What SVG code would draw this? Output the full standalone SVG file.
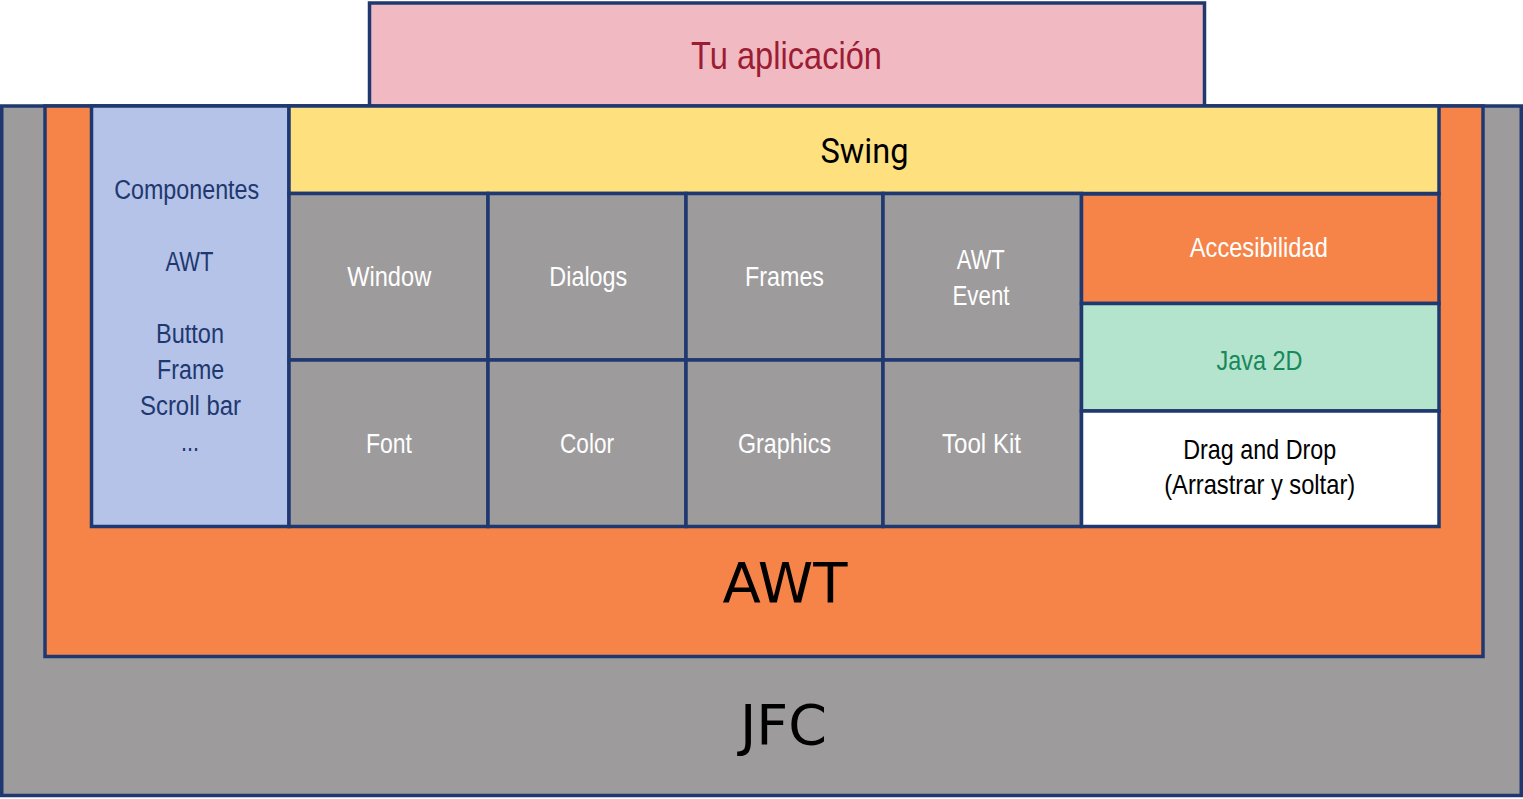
<svg xmlns="http://www.w3.org/2000/svg" width="1523" height="799" viewBox="0 0 1523 799">
<style>
rect{stroke:#1f3870;stroke-width:3.5}
.g{fill:#9d9b9c}
.t{font-family:"Liberation Sans",Arial,sans-serif;font-size:28px;text-anchor:middle}
.w{fill:#ffffff}
.n{fill:#1f3870}
.big{font-family:"DejaVu Sans",Verdana,sans-serif;font-size:55px;text-anchor:middle;fill:#000}
</style>
<g id="jfc">
<rect x="1.75" y="106" width="1519.5" height="689.5" class="g"/>
<text class="big" x="783.5" y="743.5" textLength="87" lengthAdjust="spacingAndGlyphs">JFC</text>
</g>
<g id="awt">
<rect x="45" y="106" width="1438" height="550.5" fill="#f68449"/>
<text class="big" x="785" y="601.5" textLength="125" lengthAdjust="spacingAndGlyphs">AWT</text>
</g>
<g id="app">
<rect x="369.5" y="3" width="835" height="103" fill="#f1bac2"/>
<text class="t" x="786.5" y="69" style="font-size:39px" fill="#9c1c33" textLength="191" lengthAdjust="spacingAndGlyphs">Tu aplicación</text>
</g>
<g id="componentes">
<rect x="91.5" y="106" width="197.5" height="420.5" fill="#b4c3e7"/>
<g class="t n" style="font-size:27px">
<text x="186.7" y="199.3" textLength="145" lengthAdjust="spacingAndGlyphs">Componentes</text>
<text x="189.5" y="271" textLength="48" lengthAdjust="spacingAndGlyphs">AWT</text>
<text x="190" y="343.3" textLength="68" lengthAdjust="spacingAndGlyphs">Button</text>
<text x="190.6" y="379" textLength="67" lengthAdjust="spacingAndGlyphs">Frame</text>
<text x="190.5" y="415" textLength="101" lengthAdjust="spacingAndGlyphs">Scroll bar</text>
<text x="190" y="451" textLength="18" lengthAdjust="spacingAndGlyphs">...</text>
</g>
</g>
<g id="swing">
<rect x="289" y="106" width="1150" height="87.5" fill="#ffe07f"/>
<text x="864.5" y="162.7" font-family="Roboto,'Liberation Sans',sans-serif" font-size="35" text-anchor="middle" fill="#000" textLength="88" lengthAdjust="spacingAndGlyphs">Swing</text>
</g>
<g id="window">
<rect x="289" y="193.5" width="199" height="166.5" class="g"/>
<text class="t w" x="389.2" y="286" textLength="84" lengthAdjust="spacingAndGlyphs">Window</text>
</g>
<g id="dialogs">
<rect x="488" y="193.5" width="198" height="166.5" class="g"/>
<text class="t w" x="588.3" y="286" textLength="78" lengthAdjust="spacingAndGlyphs">Dialogs</text>
</g>
<g id="frames">
<rect x="686" y="193.5" width="197" height="166.5" class="g"/>
<text class="t w" x="784.5" y="286" textLength="79" lengthAdjust="spacingAndGlyphs">Frames</text>
</g>
<g id="awtevent">
<rect x="883" y="193.5" width="198.5" height="166.5" class="g"/>
<text class="t w" x="980.8" y="269.3" textLength="48" lengthAdjust="spacingAndGlyphs">AWT</text>
<text class="t w" x="981" y="305" textLength="57" lengthAdjust="spacingAndGlyphs">Event</text>
</g>
<g id="font">
<rect x="289" y="360" width="199" height="166.5" class="g"/>
<text class="t w" x="389" y="452.7" textLength="46" lengthAdjust="spacingAndGlyphs">Font</text>
</g>
<g id="color">
<rect x="488" y="360" width="198" height="166.5" class="g"/>
<text class="t w" x="587" y="452.7" textLength="54" lengthAdjust="spacingAndGlyphs">Color</text>
</g>
<g id="graphics">
<rect x="686" y="360" width="197" height="166.5" class="g"/>
<text class="t w" x="784.5" y="452.7" textLength="93" lengthAdjust="spacingAndGlyphs">Graphics</text>
</g>
<g id="toolkit">
<rect x="883" y="360" width="198.5" height="166.5" class="g"/>
<text class="t w" x="981.5" y="452.7" textLength="79" lengthAdjust="spacingAndGlyphs">Tool Kit</text>
</g>
<g id="accesibilidad">
<rect x="1081.5" y="194" width="357.5" height="109.5" fill="#f68449"/>
<text class="t w" x="1258.8" y="256.7" textLength="138" lengthAdjust="spacingAndGlyphs">Accesibilidad</text>
</g>
<g id="java2d">
<rect x="1081.5" y="303.5" width="357.5" height="107.5" fill="#b4e4cd"/>
<text class="t" x="1259.5" y="370" fill="#17895a" textLength="86" lengthAdjust="spacingAndGlyphs">Java 2D</text>
</g>
<g id="dragdrop">
<rect x="1081.5" y="411" width="357.5" height="115.5" fill="#ffffff"/>
<text class="t" x="1259.7" y="459.3" fill="#000" textLength="153" lengthAdjust="spacingAndGlyphs">Drag and Drop</text>
<text class="t" x="1259.7" y="494.3" fill="#000" textLength="191" lengthAdjust="spacingAndGlyphs">(Arrastrar y soltar)</text>
</g>
<g id="connectors"/>
</svg>
